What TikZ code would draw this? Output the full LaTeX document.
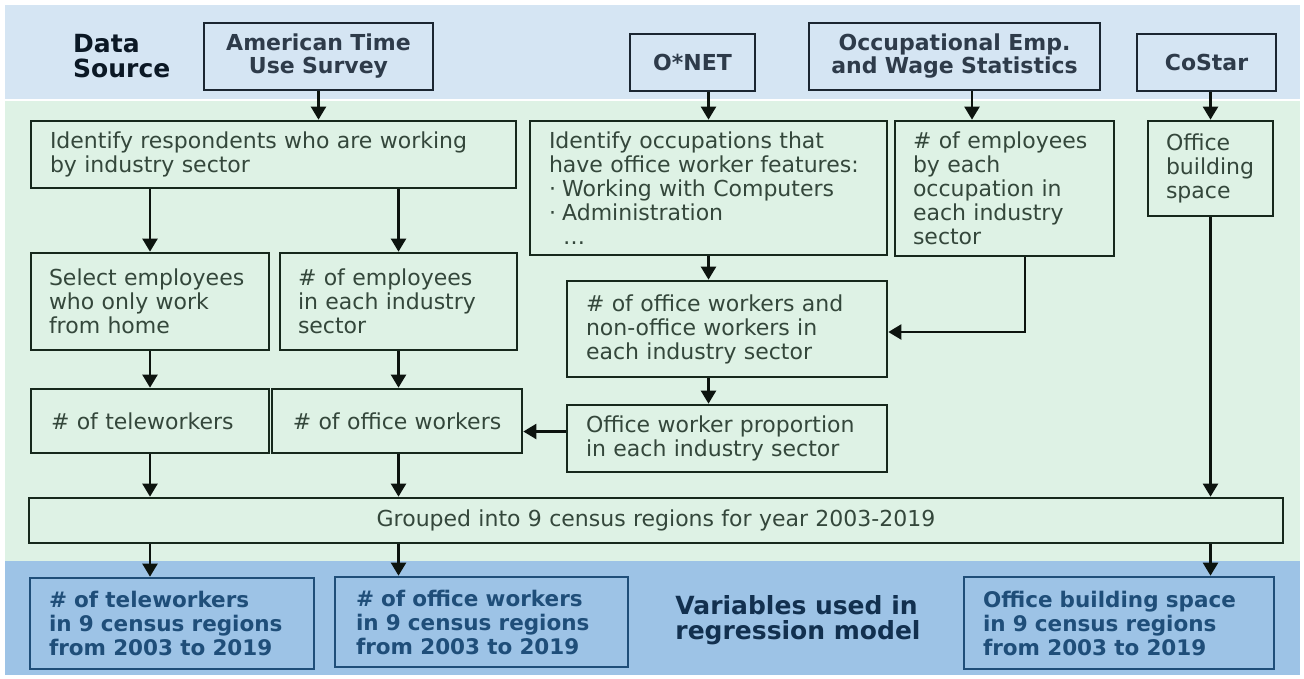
\documentclass[tikz,border=0pt]{standalone}
\usepackage{fontspec}
\setmainfont{DejaVu Sans}
\usetikzlibrary{arrows.meta}
\definecolor{topband}{HTML}{D5E5F3}
\definecolor{midband}{HTML}{DEF2E5}
\definecolor{botband}{HTML}{9DC3E6}
\definecolor{greenborder}{HTML}{16281C}
\definecolor{bodytext}{HTML}{34473B}
\definecolor{srcborder}{HTML}{1B2631}
\definecolor{srctext}{HTML}{2E3B4A}
\definecolor{outborder}{HTML}{1F4E79}
\definecolor{outtext}{HTML}{1F4E79}
\definecolor{vartext}{HTML}{12304F}
\definecolor{dstext}{HTML}{0B1825}
\definecolor{arrowc}{HTML}{0D140F}
\newcommand\placebox[8]{%
  \pgfmathsetmacro\bw{#5-#3}%
  \pgfmathsetmacro\bh{#6-#4}%
  \pgfmathsetmacro\tw{#5-#3-2*#7}%
  \node[#1, inner xsep=#7pt, inner ysep=0pt, minimum width=\bw pt, minimum height=\bh pt, text width=\tw pt]
    (#2) at ({(#3+#5)/2},{(#4+#6)/2}) {#8};}
\begin{document}
\begin{tikzpicture}[x=1pt,y=-1pt,
  bodybox/.style={draw=greenborder, line width=2.7pt, align=left, text=bodytext,
    font=\fontsize{22}{24}\selectfont},
  centerbox/.style={bodybox, align=center},
  srcbox/.style={draw=srcborder, line width=2.7pt, align=center, text=srctext,
    font=\bfseries\fontsize{22}{23}\selectfont},
  outbox/.style={draw=outborder, line width=2.7pt, align=left, text=outtext,
    font=\bfseries\fontsize{21.5}{24}\selectfont},
  arr/.style={draw=arrowc, line width=2.3pt, -{Triangle[length=13pt,width=15pt]}}]
\useasboundingbox (0,0) rectangle (1304,678);
% bands
\fill[topband] (5,5) rectangle (1300,100);
\fill[midband] (5,100) rectangle (1300,561);
\fill[botband] (5,561) rectangle (1300,675);
\draw[white, line width=1.2pt] (5,100) -- (1300,100);

% labels
\node[align=left, anchor=north west, inner sep=0pt, text=dstext,
  font=\bfseries\fontsize{25}{25}\selectfont] (ds) at (73,34) {Data\\Source};
\node[align=left, inner sep=0pt, text=vartext,
  font=\bfseries\fontsize{25}{25}\selectfont] (vars) at (798,620) {Variables used in\\regression model};

% data sources
\placebox{srcbox}{atus}{204}{23}{433}{90}{4}{American Time\\Use Survey}
\placebox{srcbox}{onet}{630}{34}{755}{91}{4}{O*NET}
\placebox{srcbox}{oews}{809}{23}{1100}{90}{4}{Occupational Emp.\\and Wage Statistics}
\placebox{srcbox}{costar}{1137}{34}{1276}{91}{4}{CoStar}

% process boxes
\placebox{bodybox}{idresp}{31}{121}{516}{188}{19}{Identify respondents who are working\\by industry sector}
\placebox{bodybox}{idocc}{530}{121}{887}{255}{19}{Identify occupations that\\have office worker features:\\·\hspace{0.28em}Working with Computers\\·\hspace{0.28em}Administration\\\hspace*{14pt}…}
\placebox{bodybox}{empocc}{895}{121}{1114}{256}{18}{\# of employees\\by each\\occupation in\\each industry\\sector}
\placebox{bodybox}{offbld}{1148}{121}{1273}{216}{18}{Office\\building\\space}
\placebox{bodybox}{select}{31}{253}{269}{350}{18}{Select employees\\who only work\\from home}
\placebox{bodybox}{emp}{280}{253}{517}{350}{18}{\# of employees\\in each industry\\sector}
\placebox{bodybox}{offnon}{567}{281}{887}{377}{19}{\# of office workers and\\non-office workers in\\each industry sector}
\placebox{bodybox}{tele}{31}{389}{269}{453}{20}{\# of teleworkers}
\placebox{centerbox}{office}{272}{389}{522}{453}{8}{\# of office workers}
\placebox{bodybox}{prop}{567}{405}{887}{472}{19}{Office worker proportion\\in each industry sector}
\placebox{centerbox}{grouped}{29}{498}{1283}{543}{10}{Grouped into 9 census regions for year 2003-2019}

% outputs
\placebox{outbox}{out1}{30}{578}{314}{669}{19}{\# of teleworkers\\in 9 census regions\\from 2003 to 2019}
\placebox{outbox}{out2}{335}{577}{628}{667}{21}{\# of office workers\\in 9 census regions\\from 2003 to 2019}
\placebox{outbox}{out3}{964}{577}{1274}{669}{19}{Office building space\\in 9 census regions\\from 2003 to 2019}

% connectors
\draw[arr] (atus.south) -- (atus.south |- idresp.north);
\draw[arr] (idresp.south -| select.north) -- (select.north);
\draw[arr] (idresp.south -| emp.north) -- (emp.north);
\draw[arr] (select.south) -- (tele.north);
\draw[arr] (emp.south) -- (emp.south |- office.north);
\draw[arr] (idocc.north |- onet.south) -- (idocc.north);
\draw[arr] (idocc.south) -- (idocc.south |- offnon.north);
\draw[arr] (offnon.south -| idocc.south) -- (prop.north -| idocc.south);
\draw[arr] ([yshift=7pt]prop.west) -- ([yshift=7pt]prop.west -| office.east);
\draw[arr] ([xshift=17.5pt]oews.south) -- ([xshift=17.5pt]oews.south |- empocc.north);
\draw[arr] ([xshift=20.5pt]empocc.south) |- ([yshift=-3pt]offnon.east);
\draw[arr] (offbld.north |- costar.south) -- (offbld.north);
\draw[arr] (offbld.south) -- (offbld.south |- grouped.north);
\draw[arr] (tele.south) -- (tele.south |- grouped.north);
\draw[arr] (office.south -| emp.south) -- (emp.south |- grouped.north);
\draw[arr] (tele.south |- grouped.south) -- (tele.south |- out1.north);
\draw[arr] (emp.south |- grouped.south) -- (emp.south |- out2.north);
\draw[arr] (offbld.south |- grouped.south) -- (offbld.south |- out3.north);
\end{tikzpicture}
\end{document}
